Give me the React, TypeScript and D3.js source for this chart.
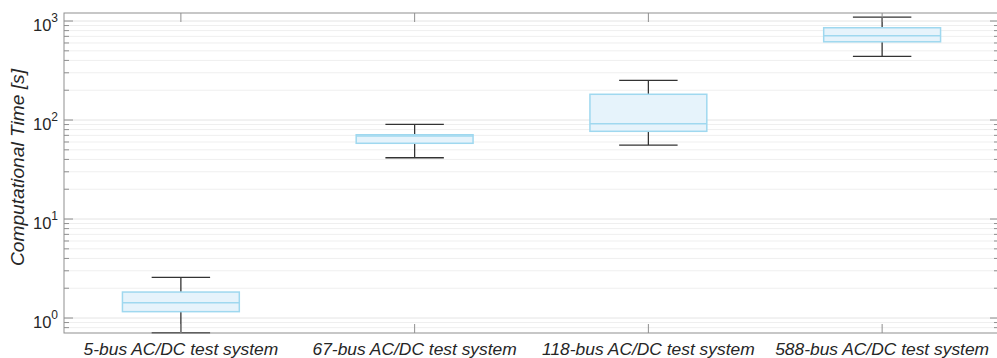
import { useEffect, useRef } from 'react';
import * as d3 from 'd3';

const categories = [
  '5-bus AC/DC test system',
  '67-bus AC/DC test system',
  '118-bus AC/DC test system',
  '588-bus AC/DC test system',
];
const whiskerLow = [0.71, 41.6, 55.9, 440];
const q1 = [1.16, 58.2, 76.9, 617];
const median = [1.43, 69, 91.8, 710];
const q3 = [1.83, 71, 182, 855];
const whiskerHigh = [2.58, 90.5, 252, 1097];
const yMajor = [0, 1, 2, 3];

export default function App() {
  const ref = useRef<SVGSVGElement>(null);

  useEffect(() => {
    if (!ref.current) return;
    const W = 997;
    const H = 358;
    const L = 64, R = 999, T = 13, B = 333;

    const svg = d3.select(ref.current);
    svg.selectAll('*').remove();
    svg.attr('width', W).attr('height', H);

    const x = d3.scaleLinear().domain([0.5, 4.5]).range([L, R]);
    const y = d3.scaleLog().domain([0.706, 1205]).range([B, T]);
    const band = x(2) - x(1);

    // grid (minor + major)
    const minor: number[] = [];
    [0.1, 1, 10, 100, 1000].forEach(d => {
      for (let k = 2; k <= 9; k++) {
        const v = d * k;
        if (v > 0.706 && v < 1205) minor.push(v);
      }
    });
    const grid = svg.append('g');
    grid.selectAll('line.minor')
      .data(minor)
      .enter()
      .append('line')
      .attr('x1', L).attr('x2', R)
      .attr('y1', d => y(d)).attr('y2', d => y(d))
      .attr('stroke', '#efefef')
      .attr('stroke-width', 1);
    grid.selectAll('line.major')
      .data(yMajor)
      .enter()
      .append('line')
      .attr('x1', L).attr('x2', R)
      .attr('y1', d => y(Math.pow(10, d))).attr('y2', d => y(Math.pow(10, d)))
      .attr('stroke', '#e4e4e4')
      .attr('stroke-width', 1);

    // boxes
    const idx = d3.range(categories.length);
    const g = svg.append('g');
    const whiskerColor = '#333333';
    const boxStroke = '#9fd8ef';
    idx.forEach(i => {
      const cx = x(i + 1);
      const cap = band * 0.25;
      const bw = band * 0.5;
      g.append('line')
        .attr('x1', cx).attr('x2', cx)
        .attr('y1', y(whiskerHigh[i])).attr('y2', y(q3[i]))
        .attr('stroke', whiskerColor).attr('stroke-width', 1.3);
      g.append('line')
        .attr('x1', cx).attr('x2', cx)
        .attr('y1', y(q1[i])).attr('y2', y(whiskerLow[i]))
        .attr('stroke', whiskerColor).attr('stroke-width', 1.3);
      [whiskerHigh[i], whiskerLow[i]].forEach(v => {
        g.append('line')
          .attr('x1', cx - cap / 2).attr('x2', cx + cap / 2)
          .attr('y1', y(v)).attr('y2', y(v))
          .attr('stroke', whiskerColor).attr('stroke-width', 1.3);
      });
      g.append('rect')
        .attr('x', cx - bw / 2)
        .attr('y', y(q3[i]))
        .attr('width', bw)
        .attr('height', y(q1[i]) - y(q3[i]))
        .attr('fill', '#e6f3fb')
        .attr('stroke', boxStroke)
        .attr('stroke-width', 1.5);
      g.append('line')
        .attr('x1', cx - bw / 2).attr('x2', cx + bw / 2)
        .attr('y1', y(median[i])).attr('y2', y(median[i]))
        .attr('stroke', boxStroke).attr('stroke-width', 1.5);
    });

    // frame
    const axisColor = '#8f8f8f';
    svg.append('rect')
      .attr('x', L).attr('y', T)
      .attr('width', R - L).attr('height', B - T)
      .attr('fill', 'none')
      .attr('stroke', axisColor)
      .attr('stroke-width', 1);

    // y ticks (left + right)
    const ticks = svg.append('g').attr('stroke', axisColor).attr('stroke-width', 1);
    yMajor.forEach(d => {
      const yy = y(Math.pow(10, d));
      ticks.append('line').attr('x1', L).attr('x2', L + 9).attr('y1', yy).attr('y2', yy);
      ticks.append('line').attr('x1', R).attr('x2', R - 9).attr('y1', yy).attr('y2', yy);
    });
    minor.forEach(v => {
      const yy = y(v);
      ticks.append('line').attr('x1', L).attr('x2', L + 5).attr('y1', yy).attr('y2', yy);
      ticks.append('line').attr('x1', R).attr('x2', R - 5).attr('y1', yy).attr('y2', yy);
    });
    // x ticks (top + bottom)
    idx.forEach(i => {
      const cx = x(i + 1);
      ticks.append('line').attr('x1', cx).attr('x2', cx).attr('y1', B).attr('y2', B - 9);
      ticks.append('line').attr('x1', cx).attr('x2', cx).attr('y1', T).attr('y2', T + 9);
    });

    // y tick labels
    const font = '"Liberation Sans", Arial, sans-serif';
    yMajor.forEach(d => {
      const yy = y(Math.pow(10, d));
      const t = svg.append('text')
        .attr('x', 58)
        .attr('y', yy + 9.5)
        .attr('text-anchor', 'end')
        .style('font-family', font)
        .style('font-size', '16.5px')
        .style('fill', '#262626');
      t.append('tspan').text('10');
      t.append('tspan')
        .attr('dy', -9)
        .style('font-size', '12px')
        .text(String(d));
    });

    // x tick labels
    svg.append('g')
      .selectAll('text')
      .data(categories)
      .enter()
      .append('text')
      .attr('x', (_d, i) => x(i + 1))
      .attr('y', 355)
      .attr('text-anchor', 'middle')
      .style('font-family', font)
      .style('font-style', 'italic')
      .style('font-size', '17.4px')
      .style('fill', '#262626')
      .text(d => d);

    // y label
    svg.append('text')
      .attr('transform', 'translate(24, 167.5) rotate(-90)')
      .attr('text-anchor', 'middle')
      .style('font-family', font)
      .style('font-style', 'italic')
      .style('font-size', '19.2px')
      .style('fill', '#262626')
      .text('Computational Time [s]');
  }, []);

  return (
    <svg
      ref={ref}
      style={{ position: 'absolute', left: 0, top: 0, display: 'block', background: '#fff' }}
    />
  );
}
